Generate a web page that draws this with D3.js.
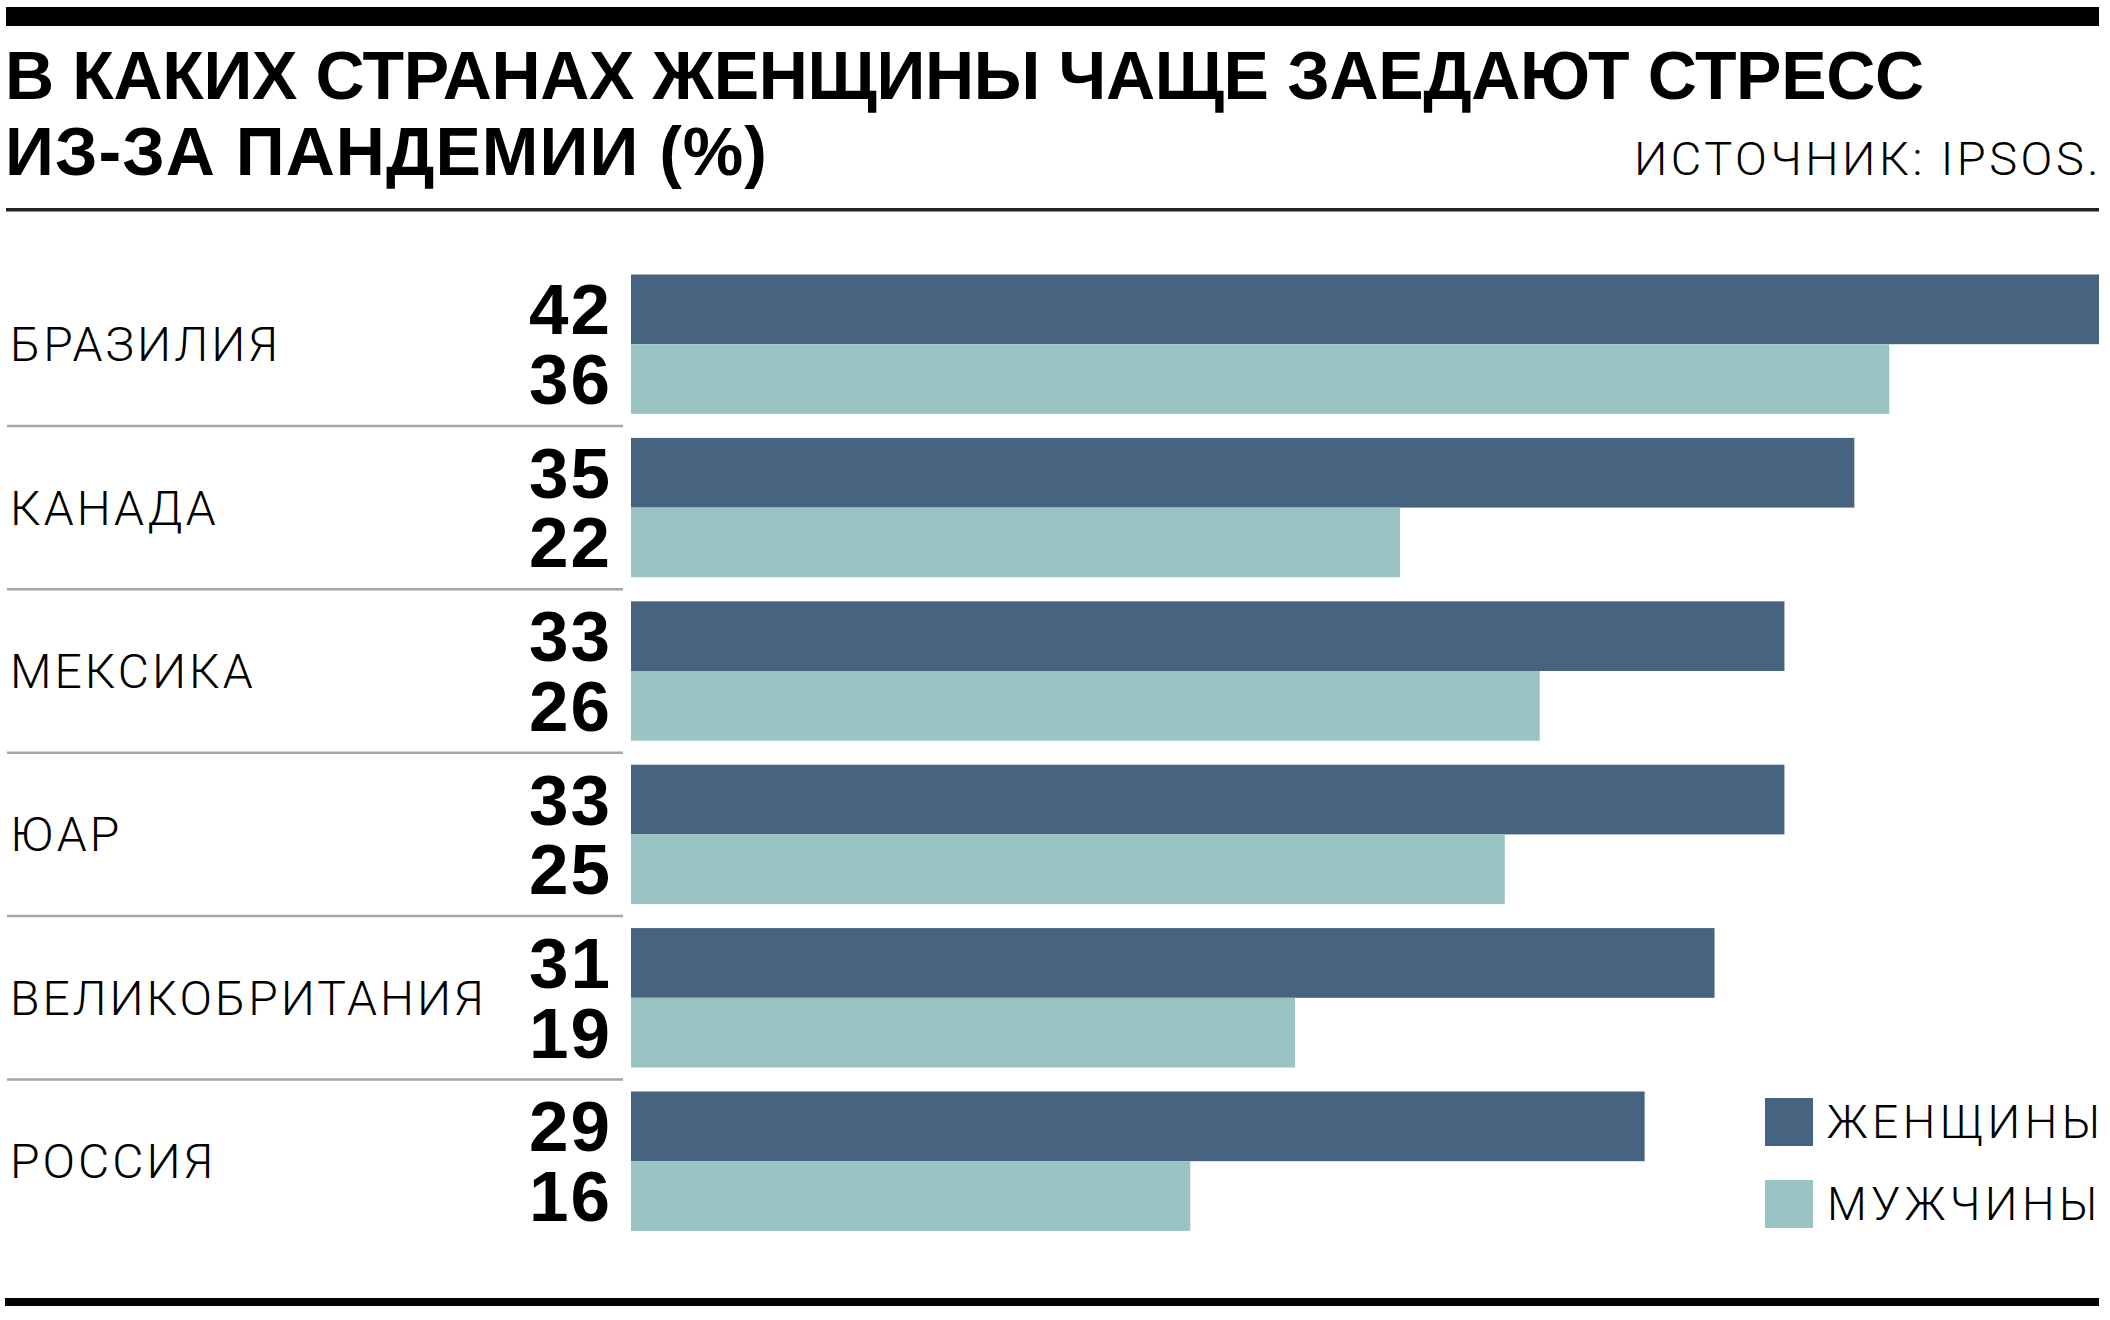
<!DOCTYPE html>
<html>
<head>
<meta charset="utf-8">
<script src="https://cdn.jsdelivr.net/npm/d3@7"></script>
<style>
  html, body { margin: 0; padding: 0; background: #fff; }
  .container { width: 2110px; height: 1320px; }
  .bold { font-family: "Liberation Sans", Arial, sans-serif; font-weight: 700; fill: #000; }
  .light { font-family: Roboto, "Liberation Sans", sans-serif; font-weight: 300; fill: #000; }
</style>
</head>
<body>
<div class="container"></div>
<script>

const titleLines = ["В КАКИХ СТРАНАХ ЖЕНЩИНЫ ЧАЩЕ ЗАЕДАЮТ СТРЕСС", "ИЗ-ЗА ПАНДЕМИИ (%)"];
const sourceText = "ИСТОЧНИК: IPSOS.";
const countries = ["БРАЗИЛИЯ", "КАНАДА", "МЕКСИКА", "ЮАР", "ВЕЛИКОБРИТАНИЯ", "РОССИЯ"];
const women = [42, 35, 33, 33, 31, 29];
const men = [36, 22, 26, 25, 19, 16];
const seriesNames = ["ЖЕНЩИНЫ", "МУЖЧИНЫ"];
const colors = ["#46637f", "#9ac4c3"];

const width = 2110;
const height = 1320;

const svg = d3.select(".container").append("svg")
    .attr("width", width)
    .attr("height", height)

// rules top / bottom
svg.append("rect").attr("x", 6).attr("y", 7).attr("width", 2093).attr("height", 19).attr("fill", "#000")
svg.append("rect").attr("x", 6).attr("y", 208).attr("width", 2093).attr("height", 3.5).attr("fill", "#222")
svg.append("rect").attr("x", 5).attr("y", 1298).attr("width", 2094).attr("height", 8).attr("fill", "#000")

// title
svg.selectAll(".title")
    .data(titleLines)
    .enter()
    .append("text")
    .attr("class", "title bold")
    .attr("x", 5)
    .attr("y", (d, i) => i === 0 ? 99 : 175)
    .attr("font-size", 68)
    .attr("textLength", (d, i) => i === 0 ? 1919 : 762)
    .attr("lengthAdjust", "spacing")
    .text(d => d)

svg.append("text")
    .attr("class", "light")
    .attr("x", 2102)
    .attr("y", 175)
    .attr("text-anchor", "end")
    .attr("font-size", 47)
    .attr("letter-spacing", 3.5)
    .text(sourceText)

const dataSet = countries.map((c, i) => ({ country: c, values: [women[i], men[i]] }))

const xScale = d3.scaleLinear()
    .domain([0, 42])
    .range([631, 2099])

const yScale = d3.scaleBand()
    .domain(countries)
    .range([262.5, 262.5 + 6 * 163.4])
    .paddingInner(24 / 163.4)
    .paddingOuter(12 / 163.4)

const ySub = d3.scaleBand()
    .domain([0, 1])
    .range([0, yScale.bandwidth()])

const groups = svg.selectAll(".group")
    .data(dataSet)
    .enter()
    .append("g")
    .attr("class", "group")
    .attr("transform", d => `translate(0,${yScale(d.country)})`)

groups.selectAll("rect")
    .data(d => d.values)
    .enter()
    .append("rect")
    .attr("x", xScale(0))
    .attr("y", (d, i) => ySub(i))
    .attr("width", d => xScale(d) - xScale(0))
    .attr("height", ySub.bandwidth())
    .attr("fill", (d, i) => colors[i])

groups.selectAll(".val")
    .data(d => d.values)
    .enter()
    .append("text")
    .attr("class", "val bold")
    .attr("x", 612)
    .attr("y", (d, i) => ySub(i) + ySub.bandwidth() / 2 + 25)
    .attr("text-anchor", "end")
    .attr("font-size", 71)
    .attr("letter-spacing", 2)
    .text(d => d)

groups.append("text")
    .attr("class", "light")
    .attr("x", 10)
    .attr("y", yScale.bandwidth() / 2 + 17)
    .attr("font-size", 48)
    .attr("letter-spacing", 3)
    .text(d => d.country)

// separators between groups
svg.selectAll(".sep")
    .data(countries.slice(1))
    .enter()
    .append("line")
    .attr("class", "sep")
    .attr("x1", 7)
    .attr("x2", 623)
    .attr("y1", d => yScale(d) - 12)
    .attr("y2", d => yScale(d) - 12)
    .attr("stroke", "#a6a6a6")
    .attr("stroke-width", 2.5)

// legend
const legend = svg.selectAll(".legend")
    .data(seriesNames)
    .enter()
    .append("g")
    .attr("class", "legend")
    .attr("transform", (d, i) => `translate(1765,${1098 + i * 82})`)

legend.append("rect")
    .attr("width", 48)
    .attr("height", 48)
    .attr("fill", (d, i) => colors[i])

legend.append("text")
    .attr("class", "light")
    .attr("x", 62)
    .attr("y", 40)
    .attr("font-size", 46)
    .attr("letter-spacing", 4.5)
    .text(d => d)

</script>
</body>
</html>
